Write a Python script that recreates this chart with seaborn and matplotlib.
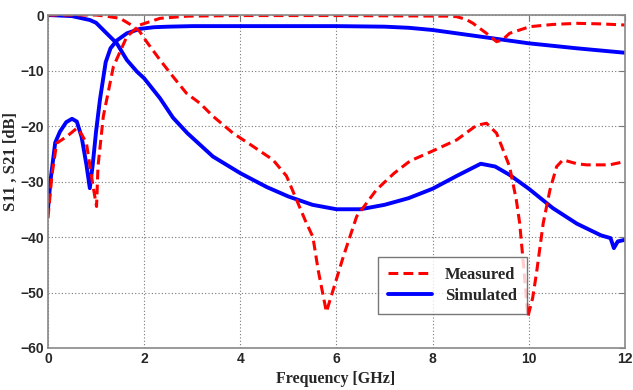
import matplotlib
matplotlib.use("Agg")
import matplotlib.pyplot as plt
import seaborn as sns
import pandas as pd
from matplotlib.lines import Line2D

# Simulated curve A (starts near 0 dB, falls)
sim_a_x = [0, 0.5, 0.87, 1.0, 1.22, 1.43, 1.64, 1.85, 2.0, 2.33, 2.6, 2.9, 3.43, 4.0, 4.55, 5.0,
           5.5, 6.0, 6.5, 7.0, 7.5, 8.0, 8.5, 9.0, 9.3, 9.6, 10.0, 10.5, 11.0, 11.5, 11.7, 11.77,
           11.85, 12.0]
sim_a_y = [0, -0.2, -0.9, -1.4, -3.3, -5.1, -8.1, -10.2, -11.4, -15.0, -18.5, -21.3, -25.5, -28.5,
           -31.0, -32.7, -34.2, -35.0, -35.0, -34.2, -33.0, -31.3, -29.0, -26.8, -27.3, -28.8,
           -31.3, -34.8, -37.6, -39.7, -40.2, -42.0, -40.8, -40.5]

# Simulated curve B (starts near -35 dB, rises)
sim_b_x = [0, 0.05, 0.15, 0.25, 0.38, 0.5, 0.6, 0.7, 0.8, 0.87, 0.93, 1.0, 1.08, 1.2, 1.3, 1.43,
           1.64, 1.91, 2.2, 2.5, 3.0, 4.0, 5.0, 6.0, 7.0, 7.5, 8.0, 8.5, 9.0, 9.5, 10.0, 11.0, 12.0]
sim_b_y = [-35, -30, -23, -21, -19.3, -18.7, -19.2, -22, -27, -31.2, -27, -21, -15.3, -8.5, -6.0,
           -4.6, -3.3, -2.5, -2.2, -2.1, -2.0, -2.0, -2.0, -2.0, -2.1, -2.3, -2.7, -3.3, -3.9,
           -4.5, -5.1, -6.0, -6.8]

# Measured curve A (starts near 0 dB, falls)
meas_a_x = [0, 1.0, 1.2, 1.5, 1.77, 1.91, 2.05, 2.33, 2.6, 2.88, 3.16, 3.44, 3.85, 4.27, 4.68,
            4.96, 5.17, 5.35, 5.51, 5.62, 5.79, 5.95, 6.14, 6.42, 6.83, 7.2, 7.53, 8.0, 8.5,
            8.91, 9.12, 9.33, 9.6, 9.74, 9.81, 9.9, 9.98, 10.08, 10.16, 10.3, 10.44, 10.58,
            10.71, 11.0, 11.2, 11.68, 12.0]
meas_a_y = [0, 0, -0.2, -0.6, -2.0, -3.0, -4.8, -8.1, -11.1, -14.1, -15.9, -18.3, -21.3, -23.7,
            -26.1, -29.0, -33.3, -37.0, -40.0, -46.0, -53.5, -49.0, -43.6, -36.3, -31.5, -28.5,
            -26.3, -24.5, -22.5, -19.9, -19.5, -21.3, -27.3, -33.3, -37.5, -46.0, -54.4, -51.0,
            -46.5, -37.5, -31.5, -27.3, -26.1, -26.8, -27.0, -27.0, -26.4]

# Measured curve B (starts near -37 dB, rises)
meas_b_x = [0, 0.08, 0.18, 0.39, 0.6, 0.7, 0.8, 0.94, 1.01, 1.04, 1.15, 1.36, 1.64, 1.91, 2.33,
            2.9, 4.0, 6.0, 8.3, 8.5, 8.7, 8.84, 9.12, 9.33, 9.45, 9.6, 10.02, 10.5, 11.0, 11.5, 12.0]
meas_b_y = [-36.6, -29, -23.1, -21.9, -20.4, -21.5, -23.1, -31, -34.5, -27.3, -18.3, -9.3, -3.9,
            -1.8, -0.6, -0.2, -0.1, -0.1, -0.2, -0.3, -0.8, -1.5, -3.3, -4.8, -4.5, -3.3, -2.1,
            -1.7, -1.5, -1.6, -1.8]

x_ticks = [0, 2, 4, 6, 8, 10, 12]
y_ticks = [-60, -50, -40, -30, -20, -10, 0]

sns.set_style("white")
plt.rcParams['font.family'] = ['Liberation Serif', 'DejaVu Serif']
plt.rcParams['font.weight'] = 'bold'

fig = plt.figure(figsize=(6.33, 3.90), dpi=100)
ax = fig.add_axes([0.0758, 0.1077, 0.9115, 0.8538])

red_dash = (0, (3.2, 1.7))
df_ma = pd.DataFrame({"x": meas_a_x, "y": meas_a_y})
df_mb = pd.DataFrame({"x": meas_b_x, "y": meas_b_y})
df_sa = pd.DataFrame({"x": sim_a_x, "y": sim_a_y})
df_sb = pd.DataFrame({"x": sim_b_x, "y": sim_b_y})

sns.lineplot(data=df_sa, x="x", y="y", ax=ax, color="#0000ff", lw=2.8, sort=False)
sns.lineplot(data=df_sb, x="x", y="y", ax=ax, color="#0000ff", lw=2.8, sort=False)
sns.lineplot(data=df_ma, x="x", y="y", ax=ax, color="#ff0000", lw=2.2, sort=False,
             linestyle=red_dash)
sns.lineplot(data=df_mb, x="x", y="y", ax=ax, color="#ff0000", lw=2.2, sort=False,
             linestyle=red_dash)

ax.set_xlim(0, 12)
ax.set_ylim(-60, 0)
ax.set_xticks(x_ticks)
ax.set_yticks(y_ticks)
ax.grid(True, linestyle=(0, (1, 2)), color="#777777", linewidth=0.8)
ax.tick_params(direction="in", length=4, top=True, right=True, color="#777777", pad=3)
for lab in ax.get_xticklabels() + ax.get_yticklabels():
    lab.set_fontweight("bold")
    lab.set_fontfamily(["Liberation Sans", "DejaVu Sans"])
    lab.set_fontsize(10)
for sp in ax.spines.values():
    sp.set_color("#888888")
    sp.set_linewidth(1.2)

ax.set_xlabel("Frequency [GHz]", fontsize=11.5, fontweight="bold")
ax.set_ylabel("S11 , S21 [dB]", fontsize=12, fontweight="bold")
ax.xaxis.set_label_coords(0.499, -0.068)
ax.yaxis.set_label_coords(-0.05, 0.56)

handles = [Line2D([], [], color="#ff0000", lw=2.2, linestyle=red_dash),
           Line2D([], [], color="#0000ff", lw=2.8)]
leg = ax.legend(handles, ["Measured", "Simulated"], loc="lower left",
                bbox_to_anchor=(0.558, 0.078), frameon=True, fancybox=False,
                edgecolor="#555555", prop={"size": 12, "weight": "bold"},
                handlelength=2.6, borderpad=0.6, labelspacing=0.3)
leg.get_frame().set_linewidth(1.0)

fig.savefig("out.png", dpi=100)
